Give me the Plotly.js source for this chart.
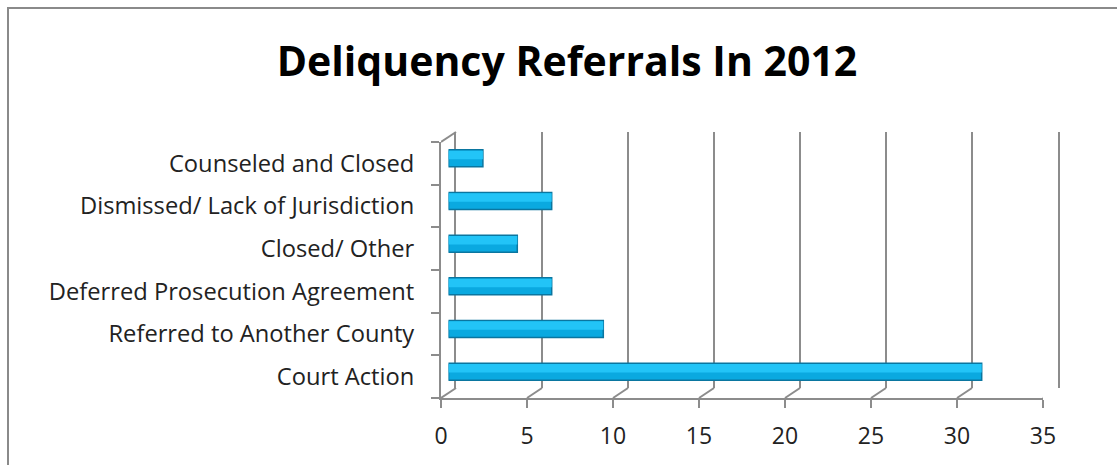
<!DOCTYPE html>
<html>
<head>
<meta charset="utf-8">
<script src="https://cdn.plot.ly/plotly-3.0.1.min.js"></script>
<style>html,body{margin:0;padding:0;background:#fff;}#chart{width:1117px;height:465px;}</style>
</head>
<body>
<div id="chart"></div>
<script>
// Data
const categories = ["Court Action", "Referred to Another County", "Deferred Prosecution Agreement", "Closed/ Other", "Dismissed/ Lack of Jurisdiction", "Counseled and Closed"];
const referrals = [31, 9, 6, 4, 6, 2];
const xTicks = [0, 5, 10, 15, 20, 25, 30, 35];
const chartTitle = "Deliquency Referrals In 2012";

// Geometry (pixels)
const W = 1117, H = 465;
const front = {l: 441, r: 1043, t: 142, b: 398};
const depthX = 15, depthY = 10;
const px = v => v / W, py = v => (H - v) / H;
const FONT = "Open Sans, sans-serif";
const GRID = "#8c8c8c";

const barTrace = {
  type: "bar", orientation: "h",
  x: referrals, y: categories,
  xaxis: "x3", yaxis: "y3",
  width: 0.4,
  marker: {color: "#0aa9e0", line: {color: "#0a76a0", width: 1.5}},
  hoverinfo: "x+y"
};
// lighter upper face of the cylinders
const highlightTrace = {
  type: "bar", orientation: "h",
  x: referrals, y: categories,
  xaxis: "x3", yaxis: "y3",
  width: 0.2, offset: -0.02,
  marker: {color: "#22c4f7", line: {width: 0}},
  hoverinfo: "skip"
};
const frontTrace = {type: "scatter", x: [null], y: [categories[0]], xaxis: "x", yaxis: "y", showlegend: false, hoverinfo: "skip"};
const backTrace = {type: "scatter", x: [null], y: [categories[0]], xaxis: "x2", yaxis: "y2", showlegend: false, hoverinfo: "skip"};

const shapes = [];
xTicks.forEach(t => {
  shapes.push({type: "line", xref: "x", yref: "paper", xsizemode: "pixel", ysizemode: "pixel",
    xanchor: t, yanchor: py(front.b), x0: 0, x1: depthX, y0: 0, y1: depthY,
    line: {color: GRID, width: 2}});
});
shapes.push({type: "line", xref: "x", yref: "paper", xsizemode: "pixel", ysizemode: "pixel",
  xanchor: 0, yanchor: py(front.t), x0: 0, x1: depthX, y0: 0, y1: depthY,
  line: {color: GRID, width: 2}});
shapes.push({type: "rect", xref: "paper", yref: "paper", x0: px(8), x1: px(1130), y0: py(480), y1: py(8),
  line: {color: "#8a8a8a", width: 2}, fillcolor: "rgba(0,0,0,0)"});

const axCommon = {fixedrange: true};
const layout = {
  width: W, height: H,
  margin: {l: 0, r: 0, t: 0, b: 0},
  paper_bgcolor: "#ffffff", plot_bgcolor: "rgba(0,0,0,0)",
  showlegend: false, barmode: "overlay",
  title: {text: "<b>" + chartTitle + "</b>", font: {family: FONT, size: 41, color: "#000"},
    x: 567 / W, xanchor: "center", y: py(62), yanchor: "middle"},
  font: {family: FONT, color: "#222"},
  xaxis: Object.assign({}, axCommon, {domain: [px(front.l), px(front.r)], range: [0, 35], anchor: "y",
    tickvals: xTicks, ticks: "outside", ticklen: 8, tickwidth: 2, tickcolor: GRID,
    showline: true, linecolor: GRID, linewidth: 2, showgrid: false, zeroline: false,
    ticklabelstandoff: 8,
    tickfont: {family: FONT, size: 23, color: "#222"}}),
  yaxis: Object.assign({}, axCommon, {domain: [py(front.b), py(front.t)], anchor: "x", type: "category",
    categoryorder: "array", categoryarray: categories, range: [-0.5, 5.5],
    tickson: "boundaries", ticks: "outside", ticklen: 8, tickwidth: 2, tickcolor: GRID,
    showline: true, linecolor: GRID, linewidth: 2, showgrid: false, zeroline: false,
    ticklabelstandoff: 20,
    tickfont: {family: FONT, size: 23.7, color: "#222"}}),
  xaxis2: Object.assign({}, axCommon, {domain: [px(front.l + depthX), px(front.r + depthX)], range: [0, 35], anchor: "y2",
    tickvals: xTicks, showticklabels: false, ticks: "", showgrid: true, gridcolor: GRID, gridwidth: 2,
    zeroline: false, showline: false}),
  yaxis2: Object.assign({}, axCommon, {domain: [py(front.b - depthY), py(front.t - depthY)], anchor: "x2", type: "category",
    categoryorder: "array", categoryarray: categories, range: [-0.5, 5.5],
    showticklabels: false, showgrid: false, zeroline: false,
    showline: true, mirror: true, linecolor: GRID, linewidth: 2}),
  xaxis3: Object.assign({}, axCommon, {domain: [px(front.l + depthX / 2), px(front.r + depthX / 2)], range: [0, 35], anchor: "y3",
    showticklabels: false, showgrid: false, zeroline: false, showline: false, ticks: ""}),
  yaxis3: Object.assign({}, axCommon, {domain: [py(front.b - depthY / 2), py(front.t - depthY / 2)], anchor: "x3", type: "category",
    categoryorder: "array", categoryarray: categories, range: [-0.5, 5.5],
    showticklabels: false, showgrid: false, zeroline: false, showline: false}),
  shapes: shapes
};

Plotly.newPlot("chart", [backTrace, frontTrace, barTrace, highlightTrace], layout, {displayModeBar: false, staticPlot: true});
</script>
</body>
</html>
